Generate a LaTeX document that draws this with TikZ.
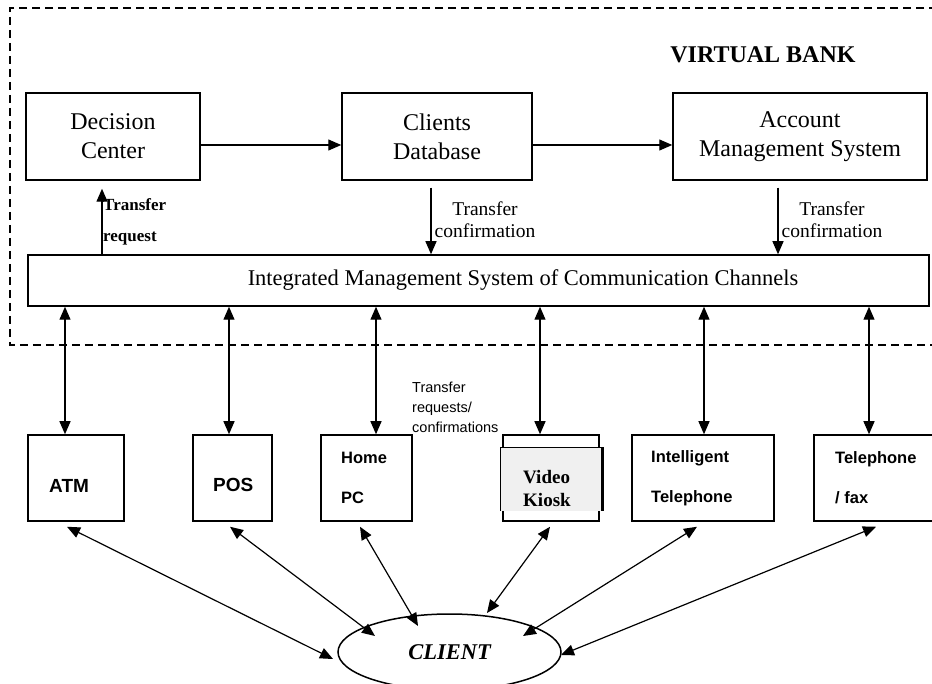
\documentclass[tikz,border=0pt]{standalone}
\usepackage{fontspec}
\setmainfont{Liberation Serif}
\setsansfont{Liberation Sans}
\usetikzlibrary{arrows.meta,shapes.geometric}

\begin{document}
\begin{tikzpicture}[x=1pt, y=-1pt, >={Triangle[length=13pt,width=11pt]},
    box/.style={draw, line width=1.5pt, minimum height=87pt, align=center,
      inner sep=0pt, font=\fontsize{24}{29}\selectfont},
    dev/.style={draw, line width=1.5pt, minimum height=86pt, inner sep=0pt},
    devtxt/.style={anchor=west, align=left, inner sep=0pt,
      font=\sffamily\bfseries\fontsize{16.5}{40}\selectfont},
    conn/.style={line width=1.2pt}]
    \clip (0,0) rectangle (932,684);
    % virtual bank frame
    \draw[dash pattern=on 8pt off 5pt, line width=1.2pt] (950,8) -- (10,8) -- (10,345) -- (950,345);
    \node[font=\bfseries\fontsize{24}{29}\selectfont] (vb) at (763,55) {VIRTUAL BANK};

    \node[box, minimum width=174pt] (dc) at (113,136.5) {Decision\\Center};
    \node[box, minimum width=190pt] (cdb) at (437,136.5) {Clients\\Database};
    \node[box, minimum width=254pt] (ams) at (800,136.5) {Account\\Management System};
    \draw[conn,->] ([yshift=-8.5pt]dc.east) -- ([yshift=-8.5pt]cdb.west);
    \draw[conn,->] ([yshift=-8.5pt]cdb.east) -- ([yshift=-8.5pt]ams.west);

    \node[draw, line width=1.5pt, minimum width=901pt, minimum height=51pt, inner sep=0pt] (ims) at (478.5,280.5) {};
    \node[font=\fontsize{22.5}{27}\selectfont] (imstxt) at (523,280) {Integrated Management System of Communication Channels};

    \draw[conn,->, shorten >=8pt] (ims.north -| 102,0) -- (dc.south -| 102,0);
    \node[anchor=west, align=left, inner sep=0pt, font=\bfseries\fontsize{17}{31}\selectfont] (treq) at (103,222) {Transfer\\request};
    \draw[conn,->, shorten <=7pt] (cdb.south -| 431,0) -- (ims.north -| 431,0);
    \node[align=center, font=\fontsize{19.5}{22}\selectfont] (tconf1) at (485,220) {Transfer\\confirmation};
    \draw[conn,->, shorten <=7pt] (ams.south -| 778,0) -- (ims.north -| 778,0);
    \node[align=center, font=\fontsize{19.5}{22}\selectfont] (tconf2) at (832,220) {Transfer\\confirmation};

    % channels
    \node[dev, minimum width=96pt] (atm) at (76,478) {};
    \node[devtxt, font=\sffamily\bfseries\fontsize{19}{23}\selectfont] (atmtxt) at (49,486) {ATM};
    \node[dev, minimum width=79pt] (pos) at (232.5,478) {};
    \node[devtxt, font=\sffamily\bfseries\fontsize{19}{23}\selectfont] (postxt) at (213,485) {POS};
    \node[dev, minimum width=91pt] (home) at (366.5,478) {};
    \node[devtxt] (hometxt) at (341,478) {Home\\PC};
    \node[dev, minimum width=96pt] (kiosk) at (551,478) {};
    \node[fill=black!6, minimum width=103pt, minimum height=63pt, inner sep=0pt] (kioskin) at (552.5,479.5) {};
    \draw[line width=1.2pt] (kioskin.south west) -- (kioskin.north west) -- (kioskin.north east);
    \draw[line width=3pt] ([xshift=-1.5pt]kioskin.north east) -- ([xshift=-1.5pt]kioskin.south east);
    \node[anchor=west, align=left, inner sep=0pt, font=\bfseries\fontsize{19}{23}\selectfont] (kiosktxt) at (523,488.5) {Video\\Kiosk};
    \node[dev, minimum width=142pt] (itel) at (703,478) {};
    \node[devtxt] (iteltxt) at (651,478) {Intelligent\\Telephone};
    \node[dev, minimum width=146pt] (tfax) at (887,478) {};
    \node[devtxt] (tfaxtxt) at (835,478) {Telephone\\/ fax};

    \foreach \n/\x in {atm/65,pos/229,home/376,kiosk/540,itel/704,tfax/869}
      \draw[conn,<->] (ims.south -| \x,0) -- (\n.north -| \x,0);
    \node[anchor=west, align=left, inner sep=0pt, font=\sffamily\fontsize{14.5}{20}\selectfont] (treqs) at (412,407) {Transfer\\requests/\\confirmations};

    % client
    \node[draw, ellipse, line width=1.5pt, minimum width=223pt, minimum height=76pt, inner sep=0pt,
      font=\bfseries\itshape\fontsize{22.5}{27}\selectfont] (client) at (449.5,652) {CLIENT};
    \draw[conn,<->] ([shift={(-9,5)}]atm.south) -- ([shift={(-116.5,7)}]client.center);
    \draw[conn,<->] ([shift={(-2.5,5)}]pos.south) -- ([shift={(-74.5,-16)}]client.center);
    \draw[conn,<->] ([shift={(-6.5,5)}]home.south) -- ([shift={(-31.5,-26)}]client.center);
    \draw[conn,<->] ([shift={(-1,5)}]kiosk.south) -- ([shift={(37.5,-39)}]client.center);
    \draw[conn,<->] ([shift={(-6,5)}]itel.south) -- ([shift={(73.5,-16)}]client.center);
    \draw[conn,<->] ([shift={(-11,5)}]tfax.south) -- ([shift={(111.5,3)}]client.center);
\end{tikzpicture}
\end{document}
